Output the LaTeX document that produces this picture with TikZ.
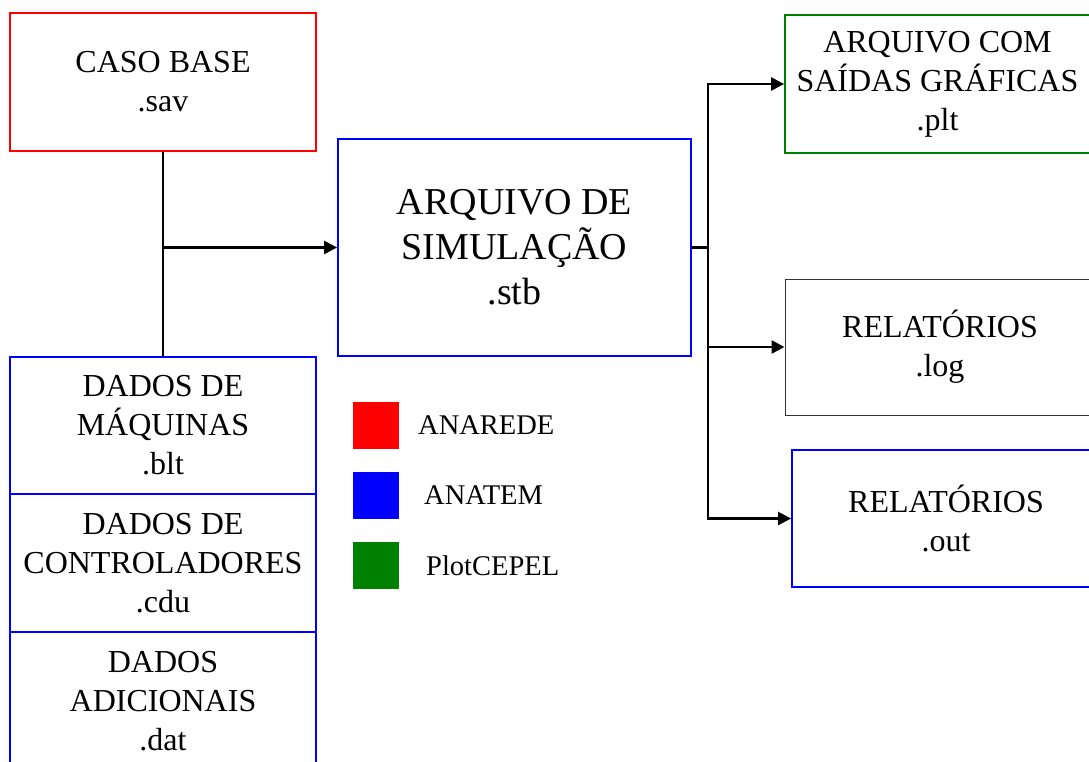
\documentclass[tikz,border=0pt]{standalone}
\usepackage{fontspec}
\setmainfont{Liberation Serif}
\usetikzlibrary{arrows.meta}
\definecolor{darkgreen}{RGB}{0,128,0}

\begin{document}
\begin{tikzpicture}
  [x=1pt,y=-1pt,
   box/.style={draw,line width=1.8pt,minimum width=306pt,minimum height=138pt,
     align=center,inner sep=0pt,font=\fontsize{32}{39}\selectfont},
   key/.style={minimum width=46pt,minimum height=47pt,inner sep=0pt},
   keytext/.style={anchor=west,inner sep=0pt,font=\fontsize{28.5}{34}\selectfont},
   link/.style={line width=2.4pt},
   arrow/.style={link,-{Triangle[length=13pt,width=13pt]}}]
  \useasboundingbox (0,0) rectangle (1089,762);

  \node[box,red] (base) at (163,82) {\textcolor{black}{CASO BASE}\\\textcolor{black}{.sav}};
  \node[box,blue,minimum width=353pt,minimum height=217pt,
    font=\fontsize{38}{45}\selectfont] (sim) at (514.5,247.5) {\textcolor{black}{ARQUIVO DE}\\\textcolor{black}{SIMULAÇÃO}\\\textcolor{black}{.stb}};

  \node[box,blue,minimum height=137pt] (maq) at (163,425.5) {\textcolor{black}{DADOS DE}\\\textcolor{black}{MÁQUINAS}\\\textcolor{black}{.blt}};
  \node[box,blue] (ctrl) at (163,563) {\textcolor{black}{DADOS DE}\\\textcolor{black}{CONTROLADORES}\\\textcolor{black}{.cdu}};
  \node[box,blue] (adic) at (163,701) {\textcolor{black}{DADOS}\\\textcolor{black}{ADICIONAIS}\\\textcolor{black}{.dat}};

  \node[box,darkgreen,minimum width=305pt] (plt) at (937.5,84) {\textcolor{black}{ARQUIVO COM}\\\textcolor{black}{SAÍDAS GRÁFICAS}\\\textcolor{black}{.plt}};
  \node[box,black!80,line width=1pt,minimum width=310pt,minimum height=136pt] (log) at (940,347) {\textcolor{black}{RELATÓRIOS}\\\textcolor{black}{.log}};
  \node[box,blue,minimum width=308pt,minimum height=137pt] (out) at (946,518.5) {\textcolor{black}{RELATÓRIOS}\\\textcolor{black}{.out}};

  % legenda
  \node[key,fill=red] (kred) at (375.5,425.5) {};
  \node[key,fill=blue] (kblue) at (375.5,495) {};
  \node[key,fill=darkgreen] (kgreen) at (375.5,565.5) {};
  \node[keytext] (lred) at (418,425.5) {ANAREDE};
  \node[keytext] (lblue) at (424,495) {ANATEM};
  \node[keytext] (lgreen) at (426,565.5) {PlotCEPEL};

  \coordinate (split) at (708,247.5);

  \draw[link] (base.south) -- (maq.north);
  \draw[arrow] (base.south |- sim.west) -- (sim.west);
  \draw[link] (sim.east) -- (split);
  \foreach \to in {plt,log,out}
    \draw[arrow] (split) |- (\to.west);

\end{tikzpicture}
\end{document}
